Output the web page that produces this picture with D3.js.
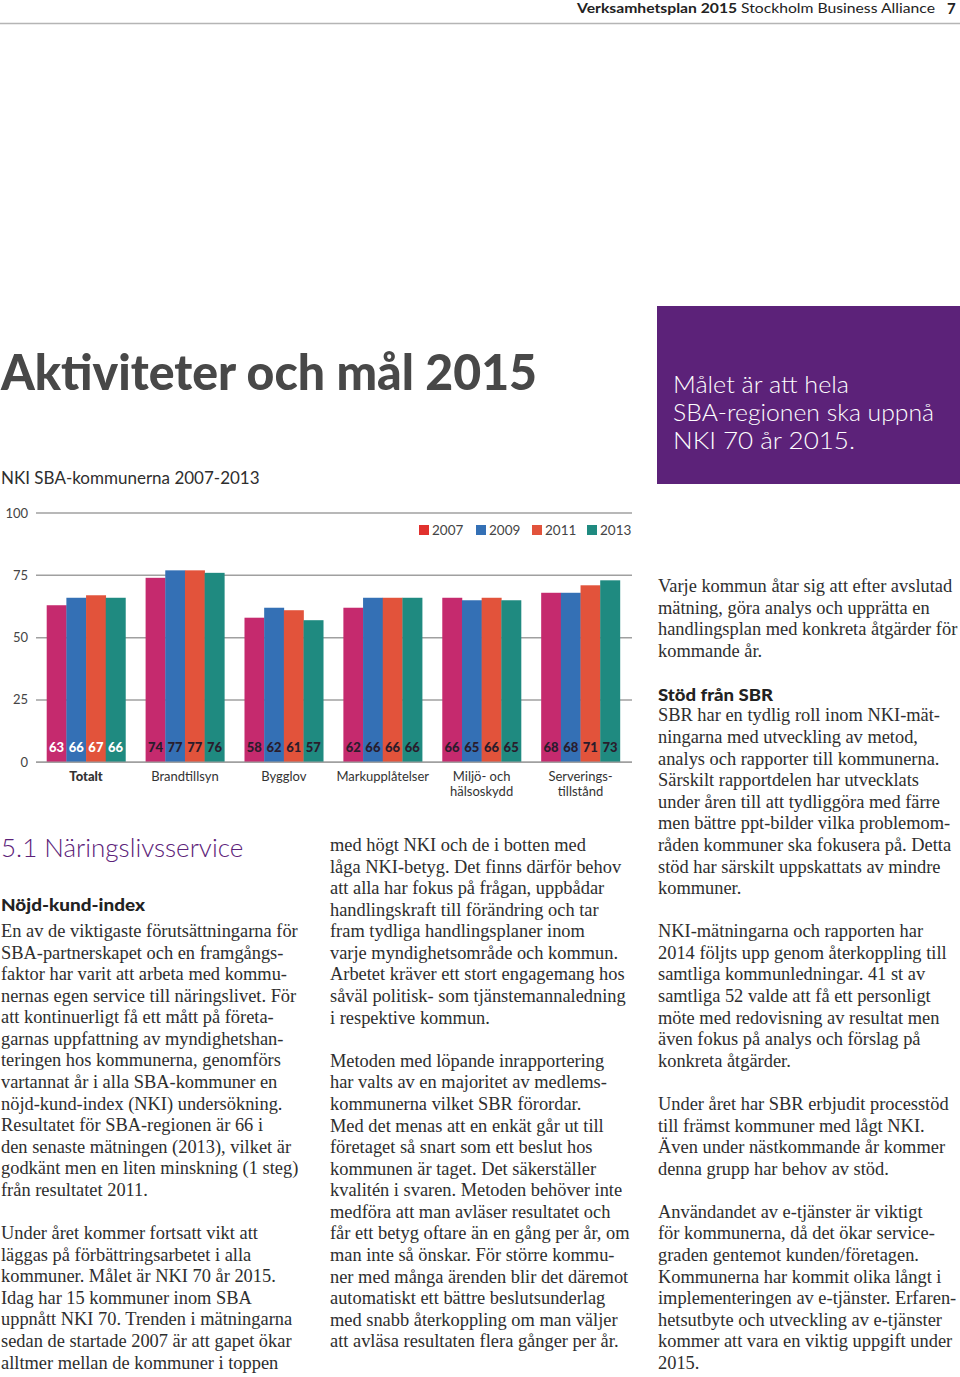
<!DOCTYPE html>
<html><head><meta charset="utf-8">
<script src="https://cdn.jsdelivr.net/npm/d3@7"></script>
<style>
html,body{margin:0;padding:0;background:#fff;}
svg{display:block;}
</style></head>
<body>
<script>
// ---------- chart data ----------
const categories = ["Totalt","Brandtillsyn","Bygglov","Markupplåtelser","Miljö- och hälsoskydd","Serverings-tillstånd"];
const categoryLines = [["Totalt"],["Brandtillsyn"],["Bygglov"],["Markupplåtelser"],["Miljö- och","hälsoskydd"],["Serverings-","tillstånd"]];
const years = ["2007","2009","2011","2013"];
const values2007 = [63,74,58,62,66,68];
const values2009 = [66,77,62,66,65,68];
const values2011 = [67,77,61,66,66,71];
const values2013 = [66,76,57,66,65,73];
const yTicks = [0,25,50,75,100];
const barColors = ["#c52a6e","#3470b5","#e2533b","#1f8a80"];
const legendColors = ["#e1312e","#3470b5","#e2533b","#1f8a80"];

// ---------- page text ----------
const titleText = "Aktiviteter och mål 2015";
const chartTitle = "NKI SBA-kommunerna 2007-2013";
const boxLines = ["Målet är att hela","SBA-regionen ska uppnå","NKI 70 år 2015."];
const col1Lines = [
"En av de viktigaste förutsättningarna för",
"SBA-partnerskapet och en framgångs-",
"faktor har varit att arbeta med kommu-",
"nernas egen service till näringslivet. För",
"att kontinuerligt få ett mått på företa-",
"garnas uppfattning av myndighetshan-",
"teringen hos kommunerna, genomförs",
"vartannat år i alla SBA-kommuner en",
"nöjd-kund-index (NKI) undersökning.",
"Resultatet för SBA-regionen är 66 i",
"den senaste mätningen (2013), vilket är",
"godkänt men en liten minskning (1 steg)",
"från resultatet 2011.",
"",
"Under året kommer fortsatt vikt att",
"läggas på förbättringsarbetet i alla",
"kommuner. Målet är NKI 70 år 2015.",
"Idag har 15 kommuner inom SBA",
"uppnått NKI 70. Trenden i mätningarna",
"sedan de startade 2007 är att gapet ökar",
"alltmer mellan de kommuner i toppen"];
const col2Lines = [
"med högt NKI och de i botten med",
"låga NKI-betyg. Det finns därför behov",
"att alla har fokus på frågan, uppbådar",
"handlingskraft till förändring och tar",
"fram tydliga handlingsplaner inom",
"varje myndighetsområde och kommun.",
"Arbetet kräver ett stort engagemang hos",
"såväl politisk- som tjänstemannaledning",
"i respektive kommun.",
"",
"Metoden med löpande inrapportering",
"har valts av en majoritet av medlems-",
"kommunerna vilket SBR förordar.",
"Med det menas att en enkät går ut till",
"företaget så snart som ett beslut hos",
"kommunen är taget. Det säkerställer",
"kvalitén i svaren. Metoden behöver inte",
"medföra att man avläser resultatet och",
"får ett betyg oftare än en gång per år, om",
"man inte så önskar. För större kommu-",
"ner med många ärenden blir det däremot",
"automatiskt ett bättre beslutsunderlag",
"med snabb återkoppling om man väljer",
"att avläsa resultaten flera gånger per år."];
const col3Lines = [
"Varje kommun åtar sig att efter avslutad",
"mätning, göra analys och upprätta en",
"handlingsplan med konkreta åtgärder för",
"kommande år.",
"",
"#Stöd från SBR",
"SBR har en tydlig roll inom NKI-mät-",
"ningarna med utveckling av metod,",
"analys och rapporter till kommunerna.",
"Särskilt rapportdelen har utvecklats",
"under åren till att tydliggöra med färre",
"men bättre ppt-bilder vilka problemom-",
"råden kommuner ska fokusera på. Detta",
"stöd har särskilt uppskattats av mindre",
"kommuner.",
"",
"NKI-mätningarna och rapporten har",
"2014 följts upp genom återkoppling till",
"samtliga kommunledningar. 41 st av",
"samtliga 52 valde att få ett personligt",
"möte med redovisning av resultat men",
"även fokus på analys och förslag på",
"konkreta åtgärder.",
"",
"Under året har SBR erbjudit processtöd",
"till främst kommuner med lågt NKI.",
"Även under nästkommande år kommer",
"denna grupp har behov av stöd.",
"",
"Användandet av e-tjänster är viktigt",
"för kommunerna, då det ökar service-",
"graden gentemot kunden/företagen.",
"Kommunerna har kommit olika långt i",
"implementeringen av e-tjänster. Erfaren-",
"hetsutbyte och utveckling av e-tjänster",
"kommer att vara en viktig uppgift under",
"2015."];

const series = [values2007, values2009, values2011, values2013];
const W = 960, H = 1377;
const SANS = "Lato, 'Open Sans', sans-serif";
const SERIF = "'Liberation Serif', 'DejaVu Serif', serif";
const TEXT = "#2e2e2e";
const PURPLE = "#5c2279";

const svg = d3.select("body").append("svg").attr("width", W).attr("height", H);
svg.append("rect").attr("width", W).attr("height", H).attr("fill", "#fff");

function fitWidth(sel, w) {
  sel.attr("textLength", w).attr("lengthAdjust", "spacingAndGlyphs");
}

// ---------- header ----------
const hdr = svg.append("text").attr("x", 577).attr("y", 13)
  .attr("font-family", SANS).attr("font-size", 14).attr("fill", "#222");
hdr.append("tspan").attr("font-weight", 700).text("Verksamhetsplan 2015 ");
hdr.append("tspan").attr("font-weight", 400).text("Stockholm Business Alliance");
fitWidth(hdr, 358);
svg.append("text").attr("x", 947).attr("y", 14)
  .attr("font-family", SANS).attr("font-weight", 700).attr("font-size", 15).attr("fill", "#222").text("7");
svg.append("line").attr("x1", 0).attr("x2", W).attr("y1", 23.5).attr("y2", 23.5)
  .attr("stroke", "#b5b5b5").attr("stroke-width", 1.5);

// ---------- title ----------
const t = svg.append("text").attr("x", 1).attr("y", 390).attr("font-family", SANS)
  .attr("font-weight", 900).attr("font-size", 50).attr("fill", "#484848").text(titleText);
fitWidth(t, 536);

// ---------- purple box ----------
svg.append("rect").attr("x", 657).attr("y", 306).attr("width", 303).attr("height", 178).attr("fill", PURPLE);
const boxWidths = [176, 261, 182];
boxLines.forEach((s, i) => {
  const bt = svg.append("text").attr("x", 673).attr("y", 393 + i * 28)
    .attr("font-family", SANS).attr("font-weight", 300).attr("font-size", 24).attr("fill", "#fff").text(s);
  fitWidth(bt, boxWidths[i]);
});

// ---------- chart ----------
svg.append("text").attr("x", 1).attr("y", 484).attr("font-family", SANS)
  .attr("font-size", 17).attr("fill", TEXT).text(chartTitle);

const y = d3.scaleLinear().domain([0, 100]).range([762.3, 513]);
const x = d3.scaleBand().domain(categories).range([46.7, 619.9]).paddingInner(0.204).paddingOuter(0);
const xs = d3.scaleBand().domain(years).range([0, x.bandwidth()]).padding(0);

const g = svg.append("g");
// gridlines
g.selectAll("line.grid").data(yTicks).join("line")
  .attr("x1", 36).attr("x2", 632)
  .attr("y1", d => y(d)).attr("y2", d => y(d))
  .attr("stroke", "#a0a0a0").attr("stroke-width", 1.5);
// y tick labels
g.selectAll("text.ytick").data(yTicks).join("text")
  .attr("x", 28).attr("y", d => y(d) + 4.5).attr("text-anchor", "end")
  .attr("font-family", SANS).attr("font-size", 13).attr("fill", "#444").text(d => d);

// bars
categories.forEach((c, ci) => {
  const grp = g.append("g").attr("transform", `translate(${x(c)},0)`);
  years.forEach((yr, si) => {
    const v = series[si][ci];
    grp.append("rect").attr("x", xs(yr)).attr("width", xs.bandwidth() + 0.3)
      .attr("y", y(v)).attr("height", y(0) - y(v)).attr("fill", barColors[si]);
    grp.append("text").attr("x", xs(yr) + xs.bandwidth() / 2).attr("y", 752)
      .attr("text-anchor", "middle").attr("font-family", SANS).attr("font-weight", 900)
      .attr("font-size", 13).attr("fill", ci === 0 ? "#fff" : "#2a1c2c").text(v);
  });
  const lab = g.append("text").attr("text-anchor", "middle")
    .attr("font-family", SANS).attr("font-size", 13).attr("fill", "#333")
    .attr("font-weight", ci === 0 ? 900 : 400);
  categoryLines[ci].forEach((s, li) => {
    lab.append("tspan").attr("x", x(c) + x.bandwidth() / 2).attr("y", 781 + li * 15).text(s);
  });
});
// baseline over bars
g.append("line").attr("x1", 36).attr("x2", 632).attr("y1", y(0)).attr("y2", y(0))
  .attr("stroke", "#a0a0a0").attr("stroke-width", 1.5);

// legend
const legX = [419, 476, 532, 587];
years.forEach((yr, i) => {
  g.append("rect").attr("x", legX[i]).attr("y", 525).attr("width", 10).attr("height", 10).attr("fill", legendColors[i]);
  g.append("text").attr("x", legX[i] + 13).attr("y", 535).attr("font-family", SANS)
    .attr("font-size", 13.5).attr("fill", "#444").text(yr);
});

// ---------- body text ----------
const LH = 21.58;
const BODY = 18.4;
function drawColumn(lines, x0, yCenter0) {
  lines.forEach((s, i) => {
    if (!s) return;
    const yy = yCenter0 + i * LH + 5;
    if (s.startsWith("#")) {
      const h = svg.append("text").attr("x", x0).attr("y", yy + 1).attr("font-family", SANS)
        .attr("font-weight", 900).attr("font-size", 17.5).attr("fill", "#222").text(s.slice(1));
      fitWidth(h, 115);
    } else {
      svg.append("text").attr("x", x0).attr("y", yy).attr("font-family", SERIF)
        .attr("font-size", BODY).attr("fill", TEXT).text(s);
    }
  });
}
svg.append("text").attr("x", 1).attr("y", 857).attr("font-family", SANS).attr("font-weight", 300)
  .attr("font-size", 26).attr("fill", PURPLE).text("5.1 Näringslivsservice");
const nk = svg.append("text").attr("x", 1).attr("y", 911).attr("font-family", SANS).attr("font-weight", 900)
  .attr("font-size", 17.5).attr("fill", "#222").text("Nöjd-kund-index");
fitWidth(nk, 144);
drawColumn(col1Lines, 1, 932);
drawColumn(col2Lines, 330, 846);
drawColumn(col3Lines, 658, 587);
</script>
</body></html>
